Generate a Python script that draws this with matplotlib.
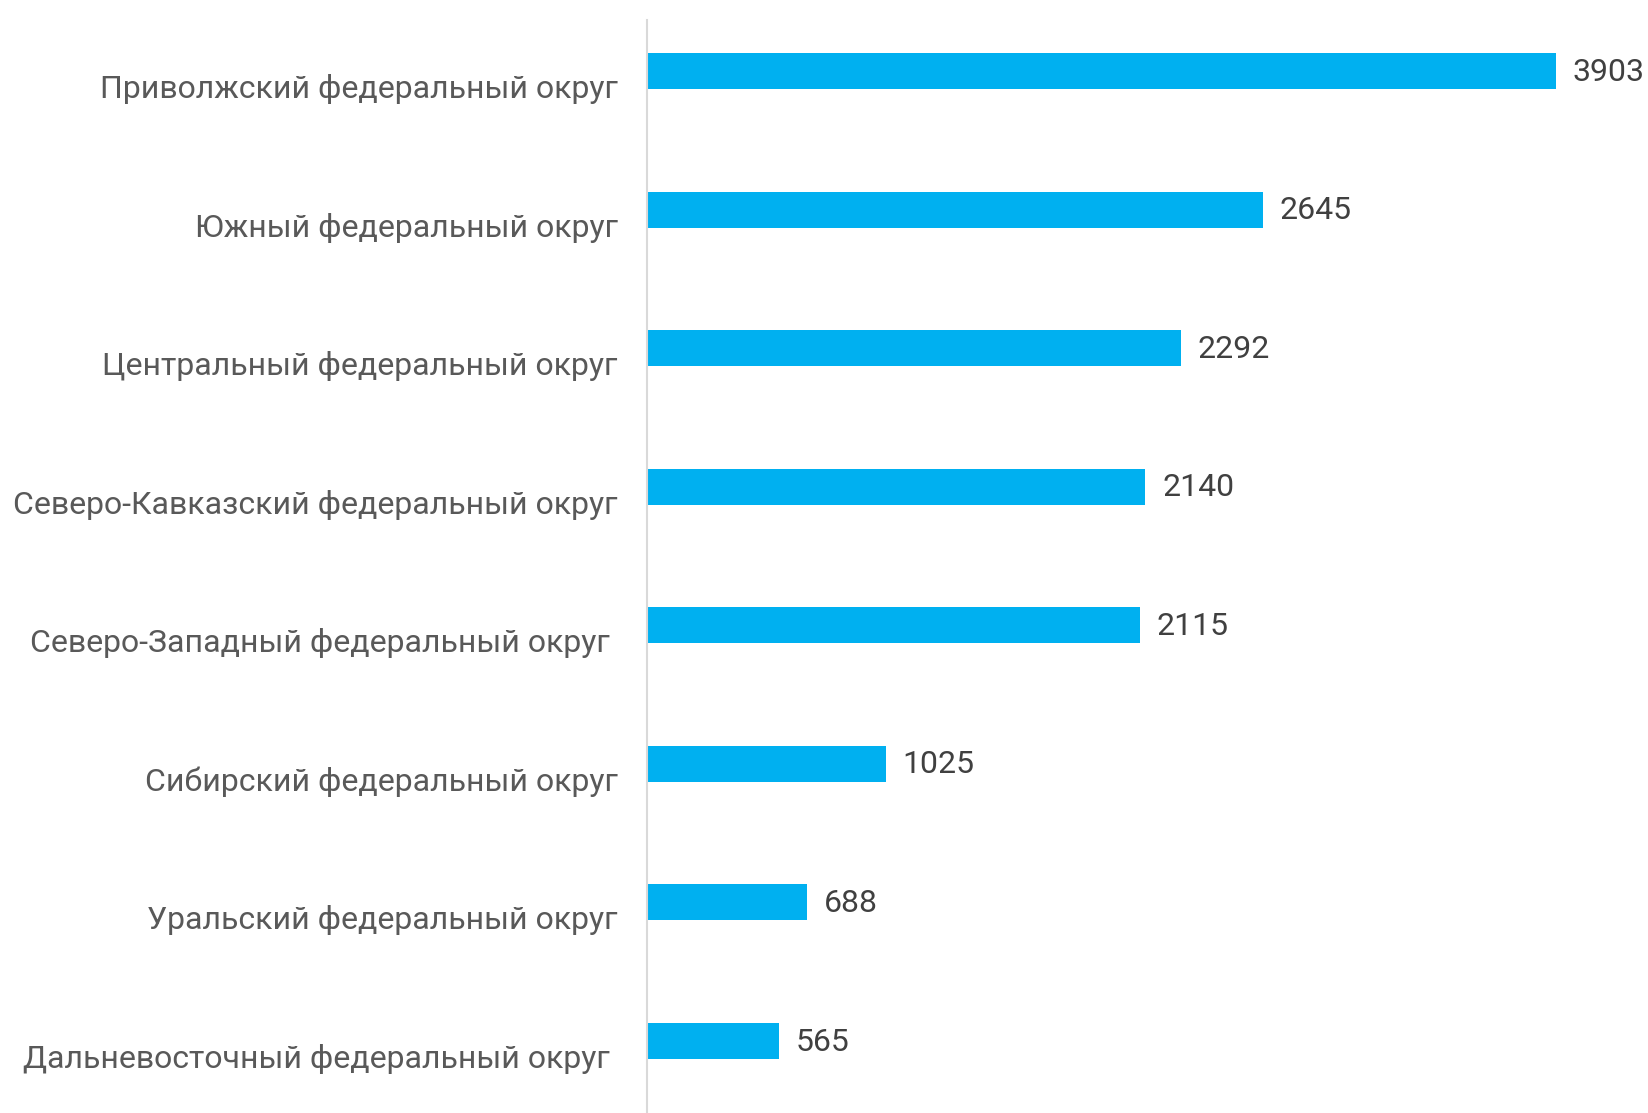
#!/usr/bin/env python3
"""Horizontal bar chart by federal district."""

import matplotlib

matplotlib.use("Agg")
import matplotlib.pyplot as plt

districts = [
    "Приволжский федеральный округ",
    "Южный федеральный округ",
    "Центральный федеральный округ",
    "Северо-Кавказский федеральный округ",
    "Северо-Западный федеральный округ ",
    "Сибирский федеральный округ",
    "Уральский федеральный округ",
    "Дальневосточный федеральный округ ",
]
values = [3903, 2645, 2292, 2140, 2115, 1025, 688, 565]

BAR_COLOR = "#00B0F0"
LABEL_COLOR = "#595959"
VALUE_COLOR = "#404040"
FONT = ["Roboto", "DejaVu Sans"]

plt.rcParams["font.family"] = FONT

fig = plt.figure(figsize=(16.48, 11.13), dpi=100)
ax = fig.add_axes([647 / 1648, 0.0, 1 - 647 / 1648, 1 - 20 / 1113])

pos = list(range(len(values)))
ax.barh(pos, values, height=0.26, color=BAR_COLOR)

for y, v in zip(pos, values):
    ax.annotate(
        str(v), xy=(v, y), xytext=(12, -0.8), textcoords="offset points",
        ha="left", va="center", fontsize=23, color=VALUE_COLOR,
    )

for y, name in zip(pos, districts):
    ax.annotate(
        name, xy=(0, y), xycoords=("axes fraction", "data"),
        xytext=(-21, -13), textcoords="offset points",
        ha="right", va="center", fontsize=23, color=LABEL_COLOR,
    )

ax.set_xlim(0, 4298)
ax.set_ylim(7.52, -0.368)
ax.set_xticks([])
ax.set_yticks([])
for side in ("top", "right", "bottom"):
    ax.spines[side].set_visible(False)
ax.spines["left"].set_color("#d9d9d9")
ax.spines["left"].set_linewidth(1.5)

fig.savefig("out.png", dpi=100, facecolor="white")
